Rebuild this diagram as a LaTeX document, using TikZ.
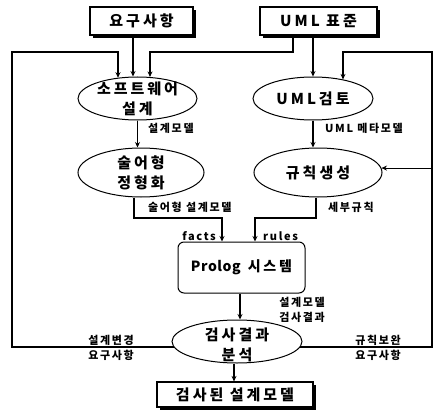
\documentclass[tikz,border=0pt]{standalone}
\usepackage{fontspec}
\usetikzlibrary{calc,arrows.meta,shapes.geometric,shadows}
\newfontfamily\krbig{Noto Sans CJK KR}[LetterSpace=20]
\newfontfamily\krplain{Noto Sans CJK KR}[LetterSpace=4]
\newfontfamily\krsmall{Noto Sans CJK KR}[LetterSpace=15]
\begin{document}
\begin{tikzpicture}[x=1pt,y=-1pt,
  line/.style={line width=1.1pt},
  arr/.style={line width=1.1pt,-{Stealth[length=5.5pt,width=5pt]}},
  sbox/.style={draw,line width=1.2pt,fill=white,inner sep=0pt,
    font=\krbig\bfseries\fontsize{15}{18}\selectfont,
    drop shadow={shadow xshift=3pt,shadow yshift=-3pt,opacity=1,fill=black}},
  ell/.style={draw,ellipse,line width=1pt,inner sep=0pt},
  etext/.style={font=\krbig\bfseries\fontsize{15}{20}\selectfont,align=center,inner sep=0pt},
  lbl/.style={font=\krsmall\bfseries\fontsize{11}{15}\selectfont,inner sep=0pt,align=center}]
\useasboundingbox (0,0) rectangle (434,412);

% boxes
\node[sbox,minimum width=103pt,minimum height=28pt] (req) at (141.5,21) {요구사항};
\node[sbox,minimum width=117pt,minimum height=28pt] (uml) at (318.5,21) {UML 표준};
\node[sbox,minimum width=156pt,minimum height=25pt] (out) at (235,394.5) {검사된 설계모델};

% ellipses
\node[ell,minimum width=119pt,minimum height=43pt,label={[etext]center:{소프트웨어\\설계}}] (sd) at (137.5,98.5) {};
\node[ell,minimum width=120pt,minimum height=43pt,label={[etext]center:{UML검토}}] (ur) at (313,98.5) {};
\node[ell,minimum width=126pt,minimum height=49pt,label={[etext]center:{술어형\\정형화}}] (pf) at (141,172.5) {};
\node[ell,minimum width=128pt,minimum height=49pt,label={[etext]center:{규칙생성}}] (rg) at (318,172.5) {};
\node[ell,minimum width=130pt,minimum height=43pt,label={[etext,yshift=-3pt]center:{검사결과\\분석}}] (an) at (237,341.5) {};

% prolog
\node[draw,rounded corners=6pt,line width=1pt,minimum width=127pt,minimum height=51pt,inner sep=0pt,
  font=\krplain\bfseries\fontsize{14}{16}\selectfont] (pro) at (241.5,267.5) {Prolog\hspace{7pt}{\krbig 시스템}};

% connectors into sd
\draw[arr] (req.south -| 133,0) -- (sd.north -| 133,0);
\draw[arr] (uml.south -| 293,0) |- (150,52) -- ($(sd.north -| 150,0)+(0,0.4)$);
\draw[arr] (an.185) -| (12,52) -| ($(sd.north -| 118,0)+(0,1.2)$);
% into ur
\draw[arr] (uml.south -| 313,0) -- (ur.north);
\draw[arr] (an.-5) -| (432,52) -| ($(ur.north -| 343,0)+(0,2.9)$);
\coordinate (rj) at (rg.4 -| 432,0);
\draw[arr] (rj) -- (rg.4);
% down
\draw[arr] (sd.south) -- (sd.south |- pf.north);
\draw[arr] (ur.south) -- (ur.south |- rg.north);
\draw[arr] (pf.south -| 134,0) -- (134,218) -| (pro.north -| 222,0);
\draw[arr] (rg.south -| 316,0) -- (316,218) -| (pro.north -| 255,0);
\draw[arr] (pro.south -| 240,0) -- (an.north -| 240,0);
\draw[arr] (an.south -| 234,0) -- (out.north -| 234,0);

% labels
\node[lbl,anchor=west] (l1) at (148,128) {설계모델};
\node[lbl,anchor=west] (l2) at (325,128) {UML 메타모델};
\node[lbl,anchor=west] (l3) at (148,207) {술어형 설계모델};
\node[lbl,anchor=west] (l4) at (328,207) {세부규칙};
\node[lbl,anchor=east] (l5) at (216,236) {facts};
\node[lbl,anchor=west] (l6) at (263,236) {rules};
\node[lbl] (l7) at (302,310) {설계모델\\검사결과};
\node[lbl] (l8) at (111,347.5) {설계변경\\요구사항};
\node[lbl] (l9) at (378,347.5) {규칙보완\\요구사항};
\end{tikzpicture}
\end{document}
